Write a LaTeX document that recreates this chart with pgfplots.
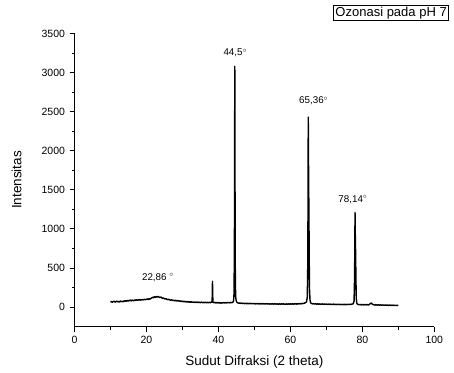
\documentclass[border=0pt]{standalone}
\usepackage{fontspec}
\setmainfont{Liberation Sans}
\usepackage{pgfplots}
\usepackage{pgfplotstable}
\pgfplotsset{compat=1.18}
\pgfplotstableread{
x y
10.00 66
10.25 74
10.50 61
10.75 71
11.00 76
11.25 64
11.50 70
11.75 78
12.00 67
12.25 74
12.50 65
12.75 79
13.00 70
13.25 76
13.50 68
13.75 82
14.00 73
14.25 84
14.50 75
14.75 87
15.00 78
15.25 86
15.50 90
15.75 79
16.00 92
16.25 84
16.50 82
16.75 94
17.00 85
17.25 96
17.50 87
17.75 92
18.00 98
18.25 88
18.50 96
18.75 91
19.00 100
19.25 92
19.50 103
19.75 95
20.00 100
20.25 106
20.50 96
20.75 108
21.00 102
21.25 112
21.50 120
21.75 127
22.00 120
22.25 134
22.50 125
22.75 137
23.00 127
23.25 138
23.50 126
23.75 124
24.00 130
24.25 117
24.50 114
24.75 118
25.00 107
25.25 104
25.50 108
25.75 98
26.00 96
26.25 101
26.50 91
26.75 89
27.00 95
27.25 85
27.50 89
27.75 82
28.00 88
28.25 79
28.50 85
28.75 77
29.00 83
29.25 74
29.50 80
29.75 72
30.00 77
30.25 69
30.50 75
30.75 67
31.00 73
31.25 65
31.50 71
31.75 64
32.00 70
32.25 62
32.50 68
32.75 61
33.00 67
33.25 60
33.50 66
33.75 59
34.00 65
34.25 58
34.50 64
34.75 61
35.00 57
35.25 65
35.50 60
35.75 56
36.00 63
36.25 57
36.50 62
36.75 55
37.00 61
37.25 56
37.50 63
37.75 57
38.00 62
38.25 72
38.35 330
38.45 92
38.50 62
38.75 57
39.00 61
39.25 54
39.50 60
39.75 53
40.00 59
40.25 52
40.50 58
40.75 51
41.00 57
41.25 53
41.50 59
41.75 52
42.00 58
42.25 54
42.50 61
42.75 55
43.00 60
43.25 54
43.50 62
43.75 56
44.00 63
44.20 76
44.35 180
44.45 900
44.55 3080
44.62 1500
44.70 350
44.80 130
44.95 80
45.10 66
45.25 57
45.50 54
45.75 49
46.00 54
46.25 47
46.50 52
46.75 46
47.00 51
47.25 45
47.50 50
47.75 44
48.00 49
48.25 43
48.50 48
48.75 44
49.00 49
49.25 42
49.50 48
49.75 43
50.00 47
50.25 41
50.50 46
50.75 42
51.00 47
51.25 40
51.50 45
51.75 41
52.00 46
52.25 40
52.50 45
52.75 39
53.00 44
53.25 40
53.50 46
53.75 39
54.00 44
54.25 38
54.50 43
54.75 39
55.00 45
55.25 38
55.50 43
55.75 39
56.00 44
56.25 37
56.50 42
56.75 38
57.00 43
57.25 37
57.50 42
57.75 38
58.00 44
58.25 37
58.50 41
58.75 36
59.00 42
59.25 38
59.50 43
59.75 37
60.00 42
60.25 38
60.50 44
60.75 37
61.00 43
61.25 39
61.50 45
61.75 38
62.00 44
62.25 40
62.50 46
62.75 41
63.00 47
63.25 42
63.50 48
63.75 49
64.00 53
64.25 58
64.50 70
64.70 130
64.85 600
64.97 2430
65.05 1800
65.12 1390
65.20 900
65.30 250
65.45 95
65.60 60
65.75 50
66.00 45
66.25 41
66.50 45
66.75 39
67.00 44
67.25 38
67.50 43
67.75 37
68.00 42
68.25 36
68.50 41
68.75 37
69.00 42
69.25 35
69.50 40
69.75 36
70.00 41
70.25 34
70.50 39
70.75 35
71.00 40
71.25 34
71.50 38
71.75 33
72.00 39
72.25 34
72.50 38
72.75 32
73.00 37
73.25 33
73.50 38
73.75 32
74.00 36
74.25 31
74.50 37
74.75 32
75.00 36
75.25 31
75.50 37
75.75 32
76.00 36
76.25 33
76.50 38
76.75 34
77.00 38
77.25 40
77.50 45
77.70 80
77.85 400
77.97 1210
78.05 900
78.12 720
78.20 450
78.30 120
78.45 55
78.60 40
78.75 36
79.00 32
79.25 30
79.50 35
79.75 29
80.00 34
80.25 28
80.50 33
80.75 29
81.00 34
81.25 28
81.50 32
81.75 29
82.00 35
82.25 46
82.50 53
82.75 40
83.00 32
83.25 27
83.50 31
83.75 26
84.00 30
84.25 25
84.50 30
84.75 26
85.00 29
85.25 24
85.50 29
85.75 25
86.00 28
86.25 23
86.50 28
86.75 24
87.00 27
87.25 22
87.50 27
87.75 23
88.00 26
88.25 21
88.50 26
88.75 22
89.00 25
89.25 20
89.50 25
89.75 21
90.00 24
}\xrd
\begin{document}
\begin{tikzpicture}
\begin{axis}[
  name=ax,
  scale only axis,
  width=359.8bp, height=293.3bp,
  xmin=0, xmax=100, ymin=-250, ymax=3500,
  axis x line=bottom, axis y line=left,
  axis line style={-, line width=1bp},
  xtick={0,20,...,100}, ytick={0,500,...,3500},
  minor tick num=1,
  tick align=outside,
  major tick length=5bp, minor tick length=3bp,
  tick style={line width=0.9bp, black},
  /pgf/number format/assume math mode=true,
  /pgf/number format/set thousands separator={},
  tick label style={font=\fontsize{10.5bp}{12bp}\selectfont},
  xticklabel style={yshift=-1bp},
  yticklabel style={xshift=-1bp},
  xlabel={Sudut Difraksi (2 theta)},
  ylabel={Intensitas},
  every axis x label/.style={at={(axis description cs:0.5,0)}, yshift=-35bp, anchor=center, font=\fontsize{13.5bp}{16bp}\selectfont},
  every axis y label/.style={at={(axis description cs:0,0.5)}, xshift=-58bp, rotate=90, anchor=center, font=\fontsize{13.5bp}{16bp}\selectfont},
  clip=false,
]
\addplot[black, line width=1.4bp, line join=round] table[x=x, y=y] {\xrd};
\node[font=\fontsize{9.8bp}{11bp}\selectfont] at (axis cs:44.7,3247) {44,5$^{\circ}$};
\node[font=\fontsize{9.8bp}{11bp}\selectfont] at (axis cs:66.5,2638) {65,36$^{\circ}$};
\node[font=\fontsize{9.8bp}{11bp}\selectfont] at (axis cs:77.4,1375) {78,14$^{\circ}$};
\node[font=\fontsize{9.8bp}{11bp}\selectfont] at (axis cs:23.2,380) {22,86 $^{\circ}$};
\node[draw, line width=0.8bp, inner xsep=2bp, inner ysep=1.5bp, font=\fontsize{13bp}{15bp}\selectfont] at (rel axis cs:0.880,1.070) {Ozonasi pada pH 7};
\end{axis}
\pgfresetboundingbox
\useasboundingbox ([xshift=-74.5bp, yshift=-46.3bp]ax.south west) rectangle ([xshift=19.7bp, yshift=33.4bp]ax.north east);
\end{tikzpicture}
\end{document}
